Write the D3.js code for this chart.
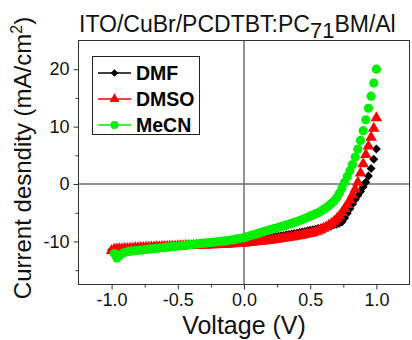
<!DOCTYPE html>
<html>
<head>
<meta charset="utf-8">
<script src="https://cdn.jsdelivr.net/npm/d3@7"></script>
<style>
  body { margin: 0; background: #fff; }
  figure { margin: 0; }
  svg text { font-family: Arial, "Liberation Sans", sans-serif; }
</style>
</head>
<body>
<figure id="jv"></figure>
<script>
// voltage sweep (V)
const voltage = [
  -1.00, -0.98, -0.96, -0.94, -0.92, -0.90, -0.88, -0.86, -0.84, -0.82,
  -0.80, -0.78, -0.76, -0.74, -0.72, -0.70, -0.68, -0.66, -0.64, -0.62,
  -0.60, -0.58, -0.56, -0.54, -0.52, -0.50, -0.48, -0.46, -0.44, -0.42,
  -0.40, -0.38, -0.36, -0.34, -0.32, -0.30, -0.28, -0.26, -0.24, -0.22,
  -0.20, -0.18, -0.16, -0.14, -0.12, -0.10, -0.08, -0.06, -0.04, -0.02,
  0.00, 0.02, 0.04, 0.06, 0.08, 0.10, 0.12, 0.14, 0.16, 0.18,
  0.20, 0.22, 0.24, 0.26, 0.28, 0.30, 0.32, 0.34, 0.36, 0.38,
  0.40, 0.42, 0.44, 0.46, 0.48, 0.50, 0.52, 0.54, 0.56, 0.58,
  0.60, 0.62, 0.64, 0.66, 0.68, 0.70, 0.72, 0.74, 0.76, 0.78,
  0.80, 0.82, 0.84, 0.86, 0.88, 0.90, 0.92, 0.94, 0.96, 0.98,
  1.00
];

// current density (mA/cm2)
const dmf = [
  -11.5, -11.3, -11.25, -11.2, -11.2, -11.15, -11.15, -11.1, -11.1, -11.05,
  -11.05, -11.0, -11.0, -10.95, -10.95, -10.9, -10.9, -10.85, -10.85, -10.8,
  -10.8, -10.8, -10.75, -10.75, -10.7, -10.7, -10.65, -10.65, -10.6, -10.6,
  -10.55, -10.55, -10.5, -10.5, -10.45, -10.45, -10.4, -10.4, -10.35, -10.35,
  -10.3, -10.3, -10.25, -10.2, -10.2, -10.15, -10.1, -10.1, -10.05, -10.0,
  -9.95, -9.9, -9.85, -9.8, -9.7, -9.65, -9.6, -9.5, -9.45, -9.4,
  -9.3, -9.25, -9.15, -9.1, -9.0, -8.95, -8.85, -8.8, -8.7, -8.6,
  -8.55, -8.45, -8.35, -8.25, -8.15, -8.05, -7.95, -7.85, -7.75, -7.65,
  -7.55, -7.45, -7.35, -7.25, -7.1, -7.0, -6.85, -6.6, -5.9, -5.1,
  -4.3, -3.5, -2.7, -2.0, -1.3, -0.5, 0.3, 1.4, 2.7, 4.3,
  6.1
];
const dmso = [
  -11.6, -11.4, -11.35, -11.3, -11.3, -11.25, -11.25, -11.2, -11.2, -11.15,
  -11.15, -11.1, -11.1, -11.05, -11.05, -11.0, -11.0, -10.95, -10.95, -10.9,
  -10.9, -10.9, -10.85, -10.85, -10.85, -10.8, -10.8, -10.8, -10.75, -10.75,
  -10.75, -10.7, -10.7, -10.7, -10.65, -10.65, -10.65, -10.6, -10.6, -10.6,
  -10.55, -10.55, -10.5, -10.5, -10.5, -10.45, -10.45, -10.4, -10.4, -10.35,
  -10.3, -10.25, -10.2, -10.15, -10.1, -10.05, -10.0, -9.95, -9.9, -9.85,
  -9.8, -9.75, -9.65, -9.6, -9.5, -9.45, -9.4, -9.3, -9.25, -9.15,
  -9.1, -9.0, -8.9, -8.8, -8.7, -8.6, -8.5, -8.35, -8.2, -8.0,
  -7.75, -7.5, -7.2, -6.9, -6.5, -6.1, -5.6, -5.0, -4.3, -3.6,
  -2.8, -1.9, -0.9, 0.3, 1.9, 3.5, 5.1, 6.6, 8.1, 9.7,
  11.5
];
const mecn = [
  null, -12.1, -12.9, -12.5, -12.1, -11.9, -11.8, -11.7, -11.65, -11.6,
  -11.55, -11.5, -11.45, -11.4, -11.35, -11.3, -11.25, -11.2, -11.15, -11.1,
  -11.05, -11.0, -10.95, -10.9, -10.85, -10.8, -10.75, -10.7, -10.65, -10.6,
  -10.55, -10.5, -10.45, -10.4, -10.35, -10.3, -10.25, -10.2, -10.15, -10.1,
  -10.05, -10.0, -9.95, -9.9, -9.85, -9.75, -9.7, -9.6, -9.5, -9.45,
  -9.35, -9.2, -9.05, -8.9, -8.8, -8.65, -8.5, -8.35, -8.2, -8.1,
  -7.95, -7.8, -7.7, -7.55, -7.4, -7.3, -7.15, -7.0, -6.85, -6.7,
  -6.55, -6.35, -6.2, -6.0, -5.8, -5.6, -5.4, -5.2, -5.0, -4.75,
  -4.45, -4.15, -3.8, -3.4, -2.95, -2.4, -1.6, -0.7, 0.3, 1.3,
  2.3, 3.4, 4.7, 6.1, 7.6, 9.3, 11.2, 13.2, 15.3, 17.6,
  20.0
];

const seriesNames = ['DMF', 'DMSO', 'MeCN'];
const xTicks = [-1.0, -0.5, 0.0, 0.5, 1.0];
const xMinorTicks = [-0.75, -0.25, 0.25, 0.75];
const yTicks = [-10, 0, 10, 20];
const yMinorTicks = [-15, -5, 5, 15];

const width = 412;
const height = 340;
const plot = {left: 78.5, right: 409.5, top: 40.5, bottom: 284.5};

const svg = d3.select('figure#jv')
  .append('svg')
  .attr('width', width)
  .attr('height', height);

const x = d3.scaleLinear()
  .domain([-1.25, 1.25])
  .range([plot.left, plot.right]);
const y = d3.scaleLinear()
  .domain([-17.5, 25])
  .range([plot.bottom, plot.top]);

// zero cross lines
svg.append('line')
  .attr('x1', x(0)).attr('x2', x(0))
  .attr('y1', plot.top).attr('y2', plot.bottom)
  .attr('stroke', '#6e6e6e').attr('stroke-width', 1.5);
svg.append('line')
  .attr('x1', plot.left).attr('x2', plot.right)
  .attr('y1', y(0)).attr('y2', y(0))
  .attr('stroke', '#6e6e6e').attr('stroke-width', 1.5);

// axes
svg.append('g')
  .attr('transform', 'translate(0,' + plot.bottom + ')')
  .call(d3.axisBottom(x).tickValues(xTicks).tickSize(5).tickPadding(4)
    .tickFormat(d => d.toFixed(1)));
svg.append('g')
  .attr('transform', 'translate(0,' + plot.bottom + ')')
  .call(d3.axisBottom(x).tickValues(xMinorTicks).tickSize(3).tickFormat(''));
svg.append('g')
  .attr('transform', 'translate(' + plot.left + ',0)')
  .call(d3.axisLeft(y).tickValues(yTicks).tickSize(5).tickPadding(4)
    .tickFormat(d => String(d)));
svg.append('g')
  .attr('transform', 'translate(' + plot.left + ',0)')
  .call(d3.axisLeft(y).tickValues(yMinorTicks).tickSize(3).tickFormat(''));

svg.selectAll('.domain').remove();
svg.selectAll('.tick line').attr('stroke', '#333');
svg.selectAll('.tick text')
  .attr('fill', '#111')
  .style('font-size', '18px')
  .style('font-family', 'Arial, "Liberation Sans", sans-serif');

// frame
svg.append('rect')
  .attr('x', plot.left).attr('y', plot.top)
  .attr('width', plot.right - plot.left)
  .attr('height', plot.bottom - plot.top)
  .attr('fill', 'none')
  .attr('stroke', '#333');

// data points
const styles = [
  {color: '#000000', symbol: d3.symbolSquare, size: 40, rotate: 45},
  {color: '#ff0000', symbol: d3.symbolTriangle, size: 58, rotate: 0},
  {color: '#00ee00', symbol: d3.symbolCircle, size: 66, rotate: 0}
];
const series = [dmf, dmso, mecn];

const marks = svg.append('g');
series.forEach((values, k) => {
  const pts = voltage.map((v, i) => ({v: v, j: values[i]})).filter(d => d.j !== null);
  const st = styles[k];
  marks.append('g')
    .selectAll('path')
    .data(pts)
    .enter()
    .append('path')
    .attr('d', d3.symbol().type(st.symbol).size(st.size))
    .attr('transform', d => 'translate(' + x(d.v) + ',' + y(d.j) + ') rotate(' + st.rotate + ')')
    .attr('fill', st.color);
});

// legend
const legend = svg.append('g');
legend.append('rect')
  .attr('x', 92.5).attr('y', 56.5)
  .attr('width', 107).attr('height', 78)
  .attr('fill', '#fff')
  .attr('stroke', '#222');
seriesNames.forEach((name, k) => {
  const ly = 73 + k * 26;
  const st = styles[k];
  legend.append('line')
    .attr('x1', 98).attr('x2', 131)
    .attr('y1', ly).attr('y2', ly)
    .attr('stroke', st.color).attr('stroke-width', 1.5);
  legend.append('path')
    .attr('d', d3.symbol().type(st.symbol).size(st.size * 0.75)())
    .attr('transform', 'translate(114.5,' + ly + ') rotate(' + st.rotate + ')')
    .attr('fill', st.color);
  legend.append('text')
    .attr('x', 136).attr('y', ly + 7)
    .attr('font-size', 19.5).attr('font-weight', 'bold')
    .attr('fill', '#000')
    .text(name);
});

// title
const title = svg.append('text')
  .attr('x', 79).attr('y', 32)
  .attr('font-size', 23)
  .attr('fill', '#111');
title.append('tspan').text('ITO/CuBr/PCDTBT:PC');
title.append('tspan').attr('dy', 6).attr('font-size', 22).text('71');
title.append('tspan').attr('dy', -6).text('BM/Al');

// axis titles
svg.append('text')
  .attr('x', x(0)).attr('y', 334)
  .attr('text-anchor', 'middle')
  .attr('font-size', 25)
  .attr('fill', '#111')
  .text('Voltage (V)');

const yLabel = svg.append('text')
  .attr('transform', 'translate(31,158) rotate(-90)')
  .attr('text-anchor', 'middle')
  .attr('font-size', 24)
  .attr('fill', '#111');
yLabel.append('tspan').text('Current desndity (mA/cm');
yLabel.append('tspan').attr('dy', -9).attr('font-size', 16).text('2');
yLabel.append('tspan').attr('dy', 9).text(')');
</script>
</body>
</html>
